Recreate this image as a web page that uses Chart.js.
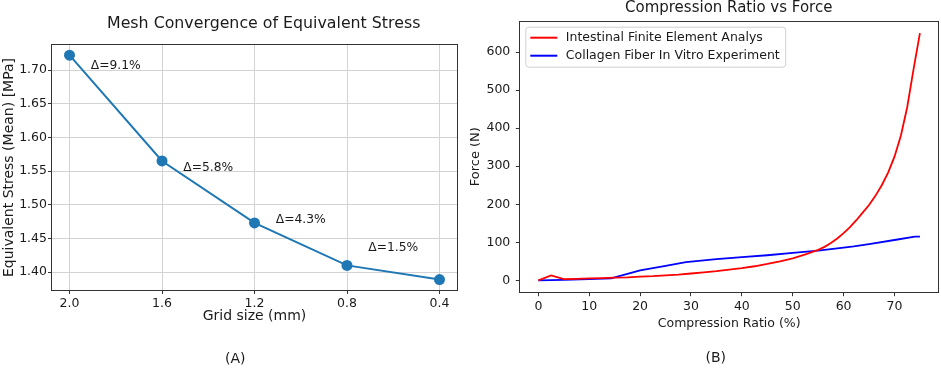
<!DOCTYPE html>
<html>
<head>
<meta charset="utf-8">
<script src="https://cdn.jsdelivr.net/npm/chart.js@4/dist/chart.umd.min.js"></script>
<style>
  body { margin: 0; background: #fff; }
  .wrap { position: absolute; top: 0; height: 368px; }
</style>
</head>
<body>
<div class="wrap" style="left:0;width:470px"><canvas id="mesh"></canvas></div>
<div class="wrap" style="left:470px;width:471px"><canvas id="force"></canvas></div>
<script>
// (A) mesh convergence
const gridSizes = ['2.0', '1.6', '1.2', '0.8', '0.4'];
const meanStress = [1.722, 1.565, 1.473, 1.410, 1.389];
const deltaLabels = ['Δ=9.1%', 'Δ=5.8%', 'Δ=4.3%', 'Δ=1.5%'];
const deltaLabelY = [1.706, 1.555, 1.4775, 1.436];
const stressTicks = [1.40, 1.45, 1.50, 1.55, 1.60, 1.65, 1.70];

// (B) compression ratio vs force
const ratioFE = [0, 2.5, 5, 7.5, 10, 12.5, 15, 17.5, 20, 22.5, 25, 27.5, 30, 32.5, 35, 37.5, 40,
  42.5, 45, 47.5, 50, 52.5, 55, 56.25, 57.5, 58.75, 60, 61.25, 62.5, 63.75, 65, 66.25, 67.5,
  68.75, 70, 71.25, 72.5, 73.75, 75];
const forceFE = [0, 13, 3, 4, 5, 6, 7, 8, 10, 11, 13, 15, 18, 21, 24, 28, 32,
  37, 43, 50, 58, 68, 80, 88, 98, 110, 124, 140, 158, 178, 198, 222, 250,
  283, 325, 380, 455, 555, 650];
const ratioExp = [0, 5, 10, 14.3, 20, 25, 29, 35, 40, 45, 50, 55, 60, 62, 65, 70, 74, 75];
const forceExp = [0, 1, 3, 5, 26, 38, 48, 56, 61, 66, 72, 78, 86, 89, 95, 106, 115, 115];
const ratioTicks = [0, 10, 20, 30, 40, 50, 60, 70];
const forceTicks = [0, 100, 200, 300, 400, 500, 600];

const FONT = 'DejaVu Sans';
const INK = '#1a1a1a';
Chart.defaults.font.family = FONT;
Chart.defaults.color = INK;

const frame = {
  id: 'frame',
  afterDatasetsDraw(chart) {
    const a = chart.chartArea, ctx = chart.ctx;
    ctx.save();
    ctx.strokeStyle = '#333';
    ctx.lineWidth = 1;
    ctx.strokeRect(Math.round(a.left) + 0.5, Math.round(a.top) + 0.5,
      Math.round(a.right - a.left) - 1, Math.round(a.bottom - a.top) - 1);
    ctx.restore();
  }
};

// title above the axes and the (A)/(B) caption below, placed like the figure
const captions = {
  id: 'captions',
  afterDraw(chart, args, opts) {
    const ctx = chart.ctx;
    ctx.save();
    ctx.fillStyle = INK;
    ctx.textAlign = 'center';
    ctx.textBaseline = 'middle';
    opts.items.forEach(it => {
      ctx.font = it.size + 'px "' + FONT + '"';
      ctx.fillText(it.text, it.x, it.y);
    });
    ctx.restore();
  }
};

const deltaText = {
  id: 'deltaText',
  afterDatasetsDraw(chart) {
    const ctx = chart.ctx, x = chart.scales.x, y = chart.scales.y;
    ctx.save();
    ctx.font = '12.3px "' + FONT + '"';
    ctx.fillStyle = INK;
    ctx.textAlign = 'center';
    ctx.textBaseline = 'middle';
    deltaLabels.forEach((t, i) => {
      ctx.fillText(t, x.getPixelForValue(i + 0.5), y.getPixelForValue(deltaLabelY[i]));
    });
    ctx.restore();
  }
};

const boxLegend = {
  id: 'boxLegend',
  afterDatasetsDraw(chart) {
    const ctx = chart.ctx, a = chart.chartArea;
    const sets = chart.data.datasets;
    ctx.save();
    ctx.font = '12.5px "' + FONT + '"';
    const tw = Math.max(...sets.map(d => ctx.measureText(d.label).width));
    const bx = a.left + 6.5, by = a.top + 6.5, bh = 40, bw = 40 + tw + 6;
    ctx.beginPath();
    ctx.roundRect(bx, by, bw, bh, 3);
    ctx.fillStyle = 'rgba(255,255,255,0.8)';
    ctx.fill();
    ctx.strokeStyle = '#d0d0d0';
    ctx.lineWidth = 1;
    ctx.stroke();
    sets.forEach((d, i) => {
      const yy = by + 10.5 + i * 18;
      ctx.strokeStyle = d.borderColor;
      ctx.lineWidth = 2;
      ctx.beginPath();
      ctx.moveTo(bx + 4.5, yy);
      ctx.lineTo(bx + 31.5, yy);
      ctx.stroke();
      ctx.fillStyle = INK;
      ctx.textBaseline = 'middle';
      ctx.fillText(d.label, bx + 40, yy);
    });
    ctx.restore();
  }
};

function fixTicks(values) {
  return scale => { scale.ticks = values.map(v => ({ value: v })); };
}

new Chart(document.getElementById('mesh'), {
  type: 'line',
  data: {
    datasets: [{
      data: meanStress.map((v, i) => ({ x: i, y: v })),
      borderColor: '#1f77b4',
      backgroundColor: '#1f77b4',
      borderWidth: 2,
      pointRadius: 5.5,
      pointHoverRadius: 5.5,
      pointBorderWidth: 0,
    }]
  },
  options: {
    responsive: true,
    maintainAspectRatio: false,
    animation: false,
    layout: { padding: { left: 0, right: 12, top: 44, bottom: 18.8 } },
    plugins: {
      legend: { display: false },
      tooltip: { enabled: false },
      captions: {
        items: [
          { text: 'Mesh Convergence of Equivalent Stress', size: 15.8, x: 263.7, y: 24 },
          { text: '(A)', size: 14, x: 235.3, y: 359 },
        ]
      },
    },
    scales: {
      x: {
        type: 'linear',
        min: -0.2,
        max: 4.2,
        afterBuildTicks: fixTicks([0, 1, 2, 3, 4]),
        afterFit: s => { s.height = 58.2; },
        ticks: { callback: v => gridSizes[v], font: { size: 12.5 }, color: INK, padding: 2, maxRotation: 0 },
        grid: { color: '#d3d3d3', tickColor: '#333', tickLength: 3 },
        border: { display: false },
        title: { display: true, text: 'Grid size (mm)', font: { size: 14 }, color: INK, padding: { top: 0, bottom: 24.8 } },
      },
      y: {
        min: 1.372,
        max: 1.7386,
        afterBuildTicks: fixTicks(stressTicks),
        afterFit: s => { s.width = 51; },
        ticks: { callback: v => v.toFixed(2), font: { size: 12.5 }, color: INK, padding: 1 },
        grid: { color: '#d3d3d3', tickColor: '#333', tickLength: 3 },
        border: { display: false },
        title: { display: true, text: 'Equivalent Stress (Mean) [MPa]', font: { size: 14 }, color: INK, padding: { top: 1.1, bottom: 0 } },
      },
    },
  },
  plugins: [frame, deltaText, captions],
});

new Chart(document.getElementById('force'), {
  type: 'line',
  data: {
    datasets: [{
      label: 'Intestinal Finite Element Analys',
      data: ratioFE.map((r, i) => ({ x: r, y: forceFE[i] })),
      borderColor: '#ff0000',
      borderWidth: 1.8,
      pointRadius: 0,
    }, {
      label: 'Collagen Fiber In Vitro Experiment',
      data: ratioExp.map((r, i) => ({ x: r, y: forceExp[i] })),
      borderColor: '#0000ff',
      borderWidth: 1.8,
      pointRadius: 0,
    }]
  },
  options: {
    responsive: true,
    maintainAspectRatio: false,
    animation: false,
    layout: { padding: { left: 0, right: 2, top: 20.7, bottom: 18.8 } },
    plugins: {
      legend: { display: false },
      tooltip: { enabled: false },
      captions: {
        items: [
          { text: 'Compression Ratio vs Force', size: 15, x: 258.7, y: 8 },
          { text: '(B)', size: 14, x: 245.7, y: 358 },
        ]
      },
    },
    scales: {
      x: {
        type: 'linear',
        min: -3.75,
        max: 78.75,
        afterBuildTicks: fixTicks(ratioTicks),
        afterFit: s => { s.height = 56.5; },
        ticks: { font: { size: 12.5 }, color: INK, padding: 3, maxRotation: 0 },
        grid: { drawOnChartArea: false, tickColor: '#333', tickLength: 3.5 },
        border: { display: false },
        title: { display: true, text: 'Compression Ratio (%)', font: { size: 12.5 }, color: INK, padding: { top: 0, bottom: 17.7 } },
      },
      y: {
        min: -32.5,
        max: 682.5,
        afterBuildTicks: fixTicks(forceTicks),
        afterFit: s => { s.width = 49.3; },
        ticks: { font: { size: 12.5 }, color: INK, padding: 5.5 },
        grid: { drawOnChartArea: false, tickColor: '#333', tickLength: 3.5 },
        border: { display: false },
        title: { display: true, text: 'Force (N)', font: { size: 13 }, color: INK, padding: { top: -1.8, bottom: 0 } },
      },
    },
  },
  plugins: [frame, boxLegend, captions],
});
</script>
</body>
</html>
